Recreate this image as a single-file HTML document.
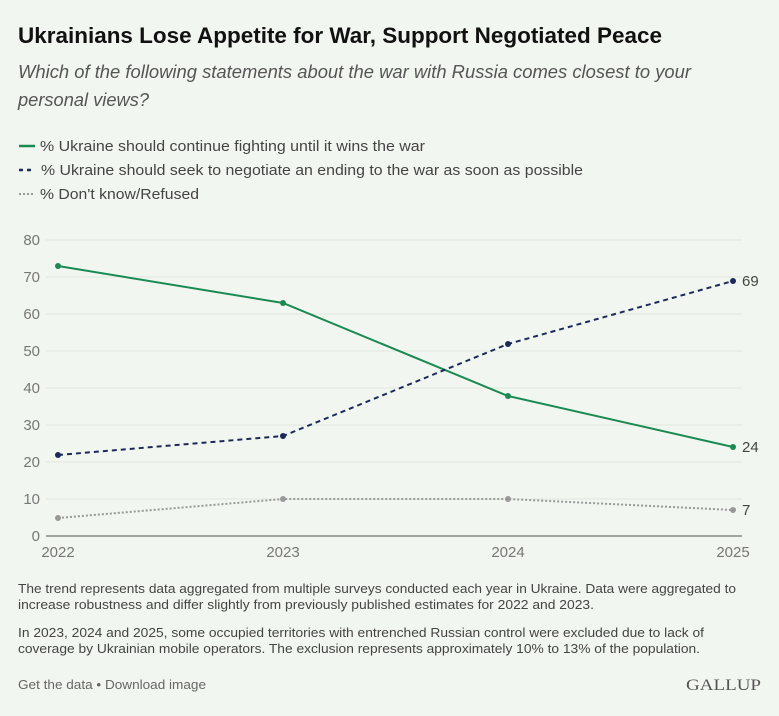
<!DOCTYPE html>
<html><head><meta charset="utf-8"><style>
html,body{margin:0;padding:0;background:#f2f6f0;}
svg{display:block;}
text{font-family:"Liberation Sans",sans-serif;}
</style></head><body>
<svg width="779" height="716" viewBox="0 0 779 716" xmlns="http://www.w3.org/2000/svg">
<rect width="779" height="716" fill="#f2f6f0"/>
<text x="18" y="43" font-size="22" font-weight="bold" fill="#111" textLength="644" lengthAdjust="spacingAndGlyphs">Ukrainians Lose Appetite for War, Support Negotiated Peace</text>
<text x="18" y="78" font-size="18" font-style="italic" fill="#555" textLength="673" lengthAdjust="spacingAndGlyphs">Which of the following statements about the war with Russia comes closest to your</text>
<text x="18" y="106" font-size="18" font-style="italic" fill="#555" textLength="131" lengthAdjust="spacingAndGlyphs">personal views?</text>
<line x1="19" y1="146" x2="35" y2="146" stroke="#1a8a52" stroke-width="2.5"/>
<text x="40" y="151" font-size="15" fill="#444" textLength="385" lengthAdjust="spacingAndGlyphs">% Ukraine should continue fighting until it wins the war</text>
<line x1="19" y1="170" x2="35" y2="170" stroke="#1c2a5a" stroke-width="2.5" stroke-dasharray="4,4"/>
<text x="41" y="175" font-size="15" fill="#444" textLength="542" lengthAdjust="spacingAndGlyphs">% Ukraine should seek to negotiate an ending to the war as soon as possible</text>
<line x1="19" y1="194" x2="35" y2="194" stroke="#999" stroke-width="2" stroke-dasharray="2,2"/>
<text x="40" y="199" font-size="15" fill="#444" textLength="159" lengthAdjust="spacingAndGlyphs">% Don't know/Refused</text>
<g stroke="#e0e6de" stroke-width="1">
<line x1="46" y1="240" x2="742" y2="240"/><line x1="46" y1="277" x2="742" y2="277"/>
<line x1="46" y1="314" x2="742" y2="314"/><line x1="46" y1="351" x2="742" y2="351"/>
<line x1="46" y1="388" x2="742" y2="388"/><line x1="46" y1="425" x2="742" y2="425"/>
<line x1="46" y1="462" x2="742" y2="462"/><line x1="46" y1="499" x2="742" y2="499"/>
</g>
<line x1="46" y1="536" x2="742" y2="536" stroke="#888" stroke-width="1.5"/>
<g font-size="15" fill="#777" text-anchor="end">
<text x="40" y="245">80</text><text x="40" y="282">70</text><text x="40" y="319">60</text>
<text x="40" y="356">50</text><text x="40" y="393">40</text><text x="40" y="430">30</text>
<text x="40" y="467">20</text><text x="40" y="504">10</text><text x="40" y="541">0</text>
</g>
<g font-size="15" fill="#777" text-anchor="middle">
<text x="58" y="557">2022</text><text x="283" y="557">2023</text><text x="508" y="557">2024</text><text x="733" y="557">2025</text>
</g>
<polyline points="58,266 283,303 508,396 733,447" fill="none" stroke="#1a8a52" stroke-width="2"/>
<polyline points="58,455 283,436 508,344 733,281" fill="none" stroke="#1c2a5a" stroke-width="2" stroke-dasharray="5,4"/>
<polyline points="58,518 283,499 508,499 733,510" fill="none" stroke="#999" stroke-width="2" stroke-dasharray="2,2"/>
<g fill="#1a8a52"><circle cx="58" cy="266" r="3"/><circle cx="283" cy="303" r="3"/><circle cx="508" cy="396" r="3"/><circle cx="733" cy="447" r="3"/></g>
<g fill="#1c2a5a"><circle cx="58" cy="455" r="3"/><circle cx="283" cy="436" r="3"/><circle cx="508" cy="344" r="3"/><circle cx="733" cy="281" r="3"/></g>
<g fill="#999"><circle cx="58" cy="518" r="3"/><circle cx="283" cy="499" r="3"/><circle cx="508" cy="499" r="3"/><circle cx="733" cy="510" r="3"/></g>
<g font-size="15" fill="#444">
<text x="742" y="286">69</text><text x="742" y="452">24</text><text x="742" y="515">7</text>
</g>
<g font-size="13" fill="#444">
<text x="18" y="593" textLength="718" lengthAdjust="spacingAndGlyphs">The trend represents data aggregated from multiple surveys conducted each year in Ukraine. Data were aggregated to</text>
<text x="18" y="609" textLength="576" lengthAdjust="spacingAndGlyphs">increase robustness and differ slightly from previously published estimates for 2022 and 2023.</text>
<text x="18" y="637" textLength="686" lengthAdjust="spacingAndGlyphs">In 2023, 2024 and 2025, some occupied territories with entrenched Russian control were excluded due to lack of</text>
<text x="18" y="653" textLength="682" lengthAdjust="spacingAndGlyphs">coverage by Ukrainian mobile operators. The exclusion represents approximately 10% to 13% of the population.</text>
</g>
<text x="18" y="689" font-size="13" fill="#666" textLength="188" lengthAdjust="spacingAndGlyphs">Get the data • Download image</text>
<text x="686" y="690" font-size="16" fill="#555" font-family="Liberation Serif,serif" textLength="75" lengthAdjust="spacingAndGlyphs" style="font-family:'Liberation Serif',serif">GALLUP</text>
</svg>
</body></html>
